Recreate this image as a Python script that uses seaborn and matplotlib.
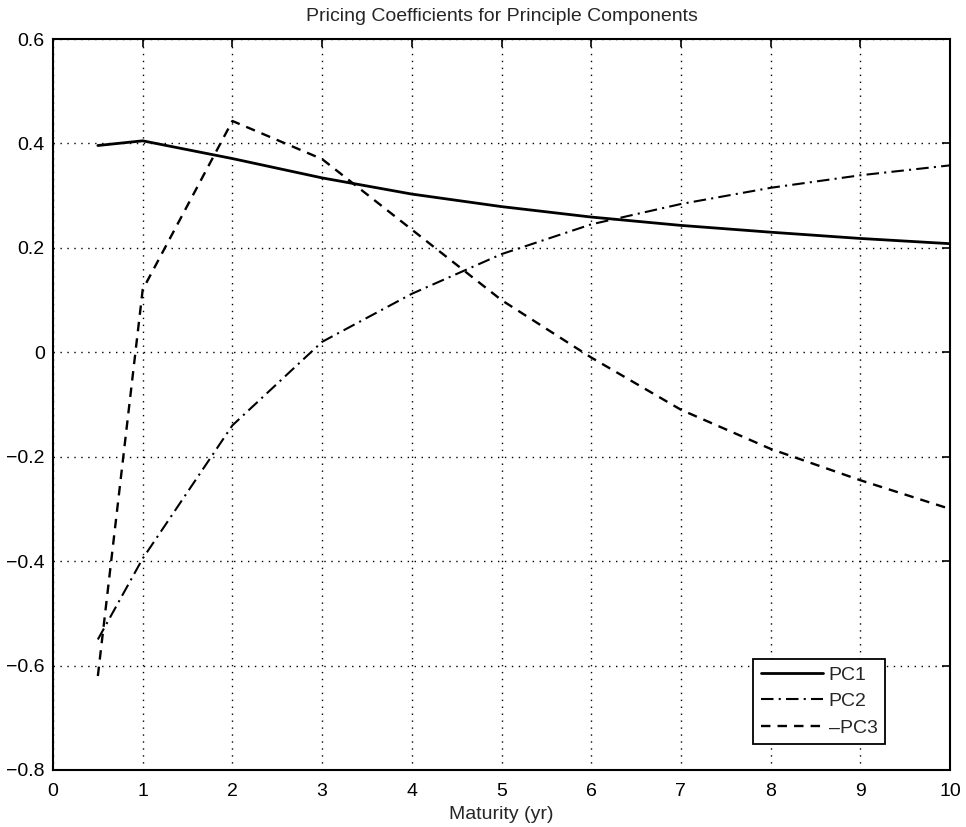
import numpy as np
import pandas as pd
import matplotlib
matplotlib.use("Agg")
import matplotlib.pyplot as plt
import seaborn as sns

maturity = [0.5, 1, 2, 3, 4, 5, 6, 7, 8, 9, 10]
pc1 = [0.396, 0.405, 0.371, 0.334, 0.303, 0.279, 0.259, 0.243, 0.230, 0.218, 0.208]
pc2 = [-0.55, -0.395, -0.14, 0.02, 0.112, 0.188, 0.245, 0.284, 0.315, 0.339, 0.358]
neg_pc3 = [-0.62, 0.12, 0.443, 0.37, 0.235, 0.10, -0.01, -0.11, -0.185, -0.245, -0.30]
labels = ["PC1", "PC2", "\u2013PC3"]

sns.set_style("white")
plt.rcParams['font.family'] = ['Liberation Sans', 'DejaVu Sans']

fig = plt.figure(figsize=(9.66, 8.27), dpi=100)
ax = fig.add_axes([53/966, 1-770/827, 897/966, 731/827])

styles = ["-", (0, (6, 2.5, 1, 2.5)), (0, (4, 3))]
widths = [2.0, 1.5, 1.7]
for ys, lab, ls, lw in zip([pc1, pc2, neg_pc3], labels, styles, widths):
    sns.lineplot(x=maturity, y=ys, ax=ax, color="black", linestyle=ls,
                 linewidth=lw, label=lab)

ax.set_xlim(0, 10)
ax.set_ylim(-0.8, 0.6)
ax.set_xticks(range(0, 11))
ax.set_yticks(np.round(np.arange(-0.8, 0.61, 0.2), 1))
ax.set_yticklabels(["\u22120.8", "\u22120.6", "\u22120.4", "\u22120.2", "0", "0.2", "0.4", "0.6"])
ax.grid(True, color="black", linestyle=(0, (1, 4)), linewidth=1.0)
ax.tick_params(direction="in", top=True, right=True, length=6, width=1.2,
               labelsize=14, colors="black", pad=6)
ax.tick_params(axis="x", pad=9)
for s in ax.spines.values():
    s.set_visible(True)
    s.set_color("black")
    s.set_linewidth(1.5)

ax.set_title("Pricing Coefficients for Principle Components", fontsize=14, pad=13)
ax.set_xlabel("Maturity (yr)", fontsize=14, labelpad=5)
ax.set_ylabel("")

leg = ax.legend(loc="lower right", bbox_to_anchor=(0.928, 0.035), fontsize=14,
                frameon=True, fancybox=False, edgecolor="black", framealpha=1,
                handlelength=3.2, borderpad=0.4, labelspacing=0.45, handletextpad=0.3,
                borderaxespad=0)
leg.get_frame().set_linewidth(1.3)

fig.savefig("out.png", dpi=100)
